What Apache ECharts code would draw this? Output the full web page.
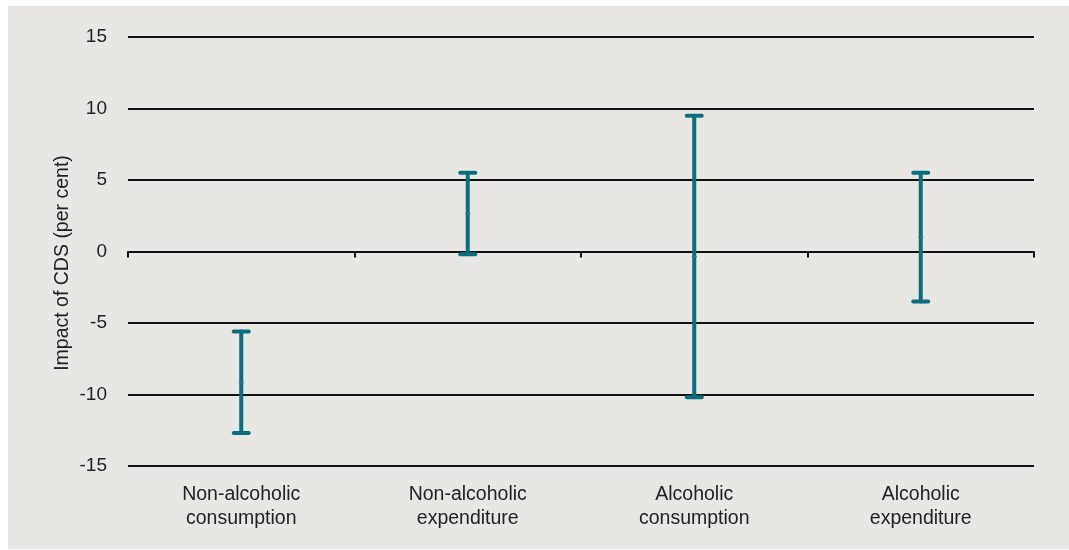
<!DOCTYPE html>
<html>
<head>
<meta charset="utf-8">
<style>
  html, body { margin: 0; padding: 0; background: #ffffff; }
  #chart { width: 1069px; height: 550px; }
</style>
<script src="https://cdn.jsdelivr.net/npm/echarts@6/dist/echarts.min.js"></script>
</head>
<body>
<div id="chart"></div>
<script>
// Estimated impact of the CDS on each outcome (per cent): lower bound, upper bound, point estimate
const categories = ['Non-alcoholic\nconsumption', 'Non-alcoholic\nexpenditure', 'Alcoholic\nconsumption', 'Alcoholic\nexpenditure'];
const lowValues = [-12.7, -0.2, -10.2, -3.5];
const highValues = [-5.6, 5.5, 9.5, 5.5];
const pointValues = [-9.15, 2.65, -0.35, 1.0];
const yTicks = [-15, -10, -5, 0, 5, 10, 15];
const yTitle = 'Impact of CDS (per cent)';

const barColor = '#0b6e7b';
const fontFamily = '"Liberation Sans", Arial, sans-serif';

const chart = echarts.init(document.getElementById('chart'));

const seriesData = categories.map((c, i) => [i, lowValues[i], highValues[i], pointValues[i]]);

chart.setOption({
  backgroundColor: '#ffffff',
  animation: false,
  graphic: [{
    type: 'rect',
    z: -10,
    silent: true,
    shape: { x: 8, y: 6, width: 1061, height: 543 },
    style: { fill: '#e8e7e3' }
  }, {
    // vertical axis title
    type: 'text',
    x: 63,
    y: 263,
    rotation: Math.PI / 2,
    silent: true,
    style: {
      text: yTitle,
      fill: '#222222',
      font: '19.5px "Liberation Sans", Arial, sans-serif',
      align: 'center',
      verticalAlign: 'middle'
    }
  }],
  grid: { left: 128, right: 35, top: 37, bottom: 84 },
  xAxis: {
    type: 'category',
    data: categories,
    boundaryGap: true,
    axisLine: { onZero: true, lineStyle: { color: '#111111', width: 2 } },
    axisTick: { show: true, length: 6, alignWithLabel: false, lineStyle: { color: '#111111', width: 2 } },
    axisLabel: {
      interval: 0,
      margin: 17,
      color: '#222222',
      fontSize: 19.5,
      lineHeight: 24,
      fontFamily: fontFamily
    },
    splitLine: { show: false }
  },
  yAxis: {
    type: 'value',
    min: yTicks[0],
    max: yTicks[yTicks.length - 1],
    interval: 5,
    axisLine: { show: false },
    axisTick: { show: false },
    axisLabel: {
      margin: 21,
      color: '#222222',
      fontSize: 19,
      fontFamily: fontFamily
    },
    splitLine: { show: true, lineStyle: { color: '#111111', width: 2 } }
  },
  series: [{
    type: 'custom',
    data: seriesData,
    encode: { x: 0, y: [1, 2, 3] },
    renderItem: function (params, api) {
      const x = api.value(0);
      const lo = api.coord([x, api.value(1)]);
      const hi = api.coord([x, api.value(2)]);
      const mid = api.coord([x, api.value(3)]);
      const capHalf = 7.5;
      const lineStyle = { stroke: barColor, lineWidth: 4, lineCap: 'round' };
      return {
        type: 'group',
        children: [
          { type: 'line', shape: { x1: lo[0], y1: lo[1], x2: hi[0], y2: hi[1] }, style: lineStyle },
          { type: 'line', shape: { x1: hi[0] - capHalf, y1: hi[1], x2: hi[0] + capHalf, y2: hi[1] }, style: lineStyle },
          { type: 'line', shape: { x1: lo[0] - capHalf, y1: lo[1], x2: lo[0] + capHalf, y2: lo[1] }, style: lineStyle },
          { type: 'line', shape: { x1: mid[0] - 2.5, y1: mid[1], x2: mid[0] + 2.5, y2: mid[1] }, style: { stroke: '#2f7f8a', lineWidth: 1.5 } }
        ]
      };
    }
  }]
});
</script>
</body>
</html>
